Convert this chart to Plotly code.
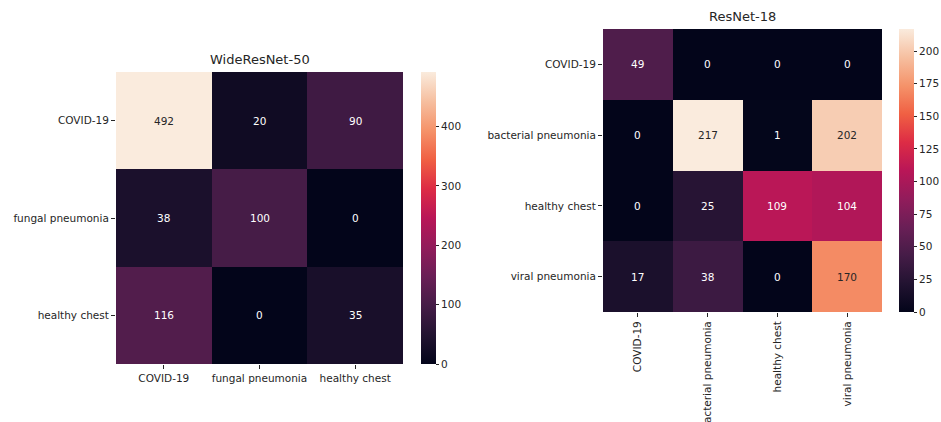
import plotly.graph_objects as go

# Confusion matrices (rows = true class, columns = predicted class)
wrn_labels = ["COVID-19", "fungal pneumonia", "healthy chest"]
wrn_counts = [
    [492, 20, 90],
    [38, 100, 0],
    [116, 0, 35],
]
wrn_ticks = [0, 100, 200, 300, 400]

rn_labels = ["COVID-19", "bacterial pneumonia", "healthy chest", "viral pneumonia"]
rn_counts = [
    [49, 0, 0, 0],
    [0, 217, 1, 202],
    [0, 25, 109, 104],
    [17, 38, 0, 170],
]
rn_ticks = [0, 25, 50, 75, 100, 125, 150, 175, 200]

W, H = 941, 422

# seaborn "rocket"-style colour ramp
rocket = [
    [0.0, "#03051A"], [0.1, "#221331"], [0.2, "#451C47"], [0.3, "#6A1F56"],
    [0.4, "#921C5B"], [0.5, "#B91657"], [0.6, "#DD2C45"], [0.7, "#F06043"],
    [0.8, "#F5936A"], [0.9, "#F6BFA0"], [1.0, "#FAEBDD"],
]

FONT = "DejaVu Sans"
TXT = "#262626"
FS = 10.5


def px_x(p):
    return p / W


def px_y(p):
    return 1 - p / H


fig = go.Figure()

panels = [
    dict(labels=wrn_labels, z=wrn_counts, ticks=wrn_ticks, title="WideResNet-50",
         box=(116, 403, 72, 364), cbar=(421, 15), xa="x", ya="y", angle=0),
    dict(labels=rn_labels, z=rn_counts, ticks=rn_ticks, title="ResNet-18",
         box=(603, 882, 29, 312), cbar=(899, 15), xa="x2", ya="y2", angle=-90),
]

annotations = []
for i, p in enumerate(panels):
    x0, x1, y0, y1 = p["box"]
    zmax = max(max(r) for r in p["z"])
    fig.add_trace(go.Heatmap(
        z=p["z"], x=p["labels"], y=p["labels"], xaxis=p["xa"], yaxis=p["ya"],
        colorscale=rocket, zmin=0, zmax=zmax, xgap=0, ygap=0,
        hoverinfo="skip",
        colorbar=dict(
            x=px_x(p["cbar"][0]), xanchor="left", xref="paper", xpad=0, ypad=0,
            y=px_y(y1), yanchor="bottom", len=(y1 - y0) / H, lenmode="fraction",
            thickness=p["cbar"][1], thicknessmode="pixels", outlinewidth=0,
            tickmode="array", tickvals=p["ticks"], ticks="outside", ticklen=3.5,
            tickwidth=1, tickcolor=TXT, tickfont=dict(family=FONT, size=FS, color=TXT),
        ),
    ))
    # cell value labels
    for r, row in enumerate(p["z"]):
        for c, v in enumerate(row):
            light = v / zmax > 0.6
            annotations.append(dict(
                x=p["labels"][c], y=p["labels"][r], xref=p["xa"], yref=p["ya"],
                text=str(v), showarrow=False,
                font=dict(family=FONT, size=FS, color=TXT if light else "white"),
            ))
    annotations.append(dict(
        x=px_x((x0 + x1) / 2), y=px_y(y0 - 3), xref="paper", yref="paper",
        xanchor="center", yanchor="bottom", text=p["title"], showarrow=False,
        font=dict(family=FONT, size=13, color=TXT),
    ))
    axis_common = dict(showgrid=False, zeroline=False, showline=False, automargin=False,
                       ticks="outside", ticklen=4, tickwidth=1.2, tickcolor=TXT,
                       tickfont=dict(family=FONT, size=FS, color=TXT))
    xname = "xaxis" if i == 0 else "xaxis2"
    yname = "yaxis" if i == 0 else "yaxis2"
    fig.update_layout(**{
        xname: dict(domain=[px_x(x0), px_x(x1)], anchor=p["ya"], tickangle=p["angle"],
                    **axis_common),
        yname: dict(domain=[px_y(y1), px_y(y0)], anchor=p["xa"], autorange="reversed",
                    **axis_common),
    })

fig.update_layout(
    width=W, height=H, margin=dict(l=0, r=0, t=0, b=0, autoexpand=False),
    paper_bgcolor="white", plot_bgcolor="white",
    annotations=annotations, showlegend=False,
)

fig.write_html("out.html")
